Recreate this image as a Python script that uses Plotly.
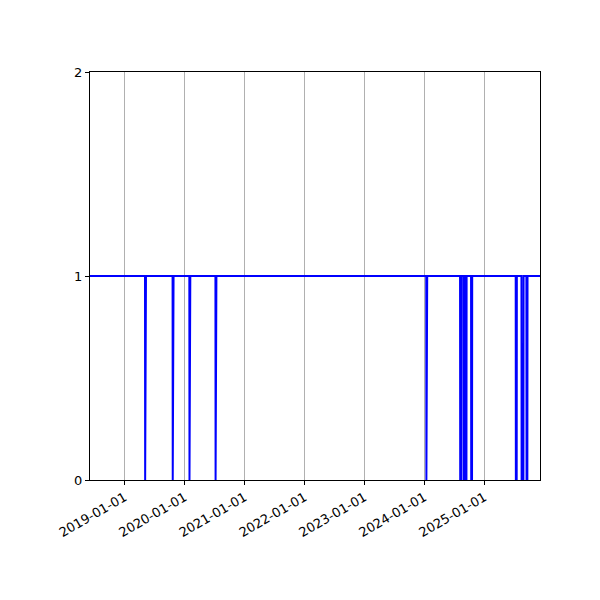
import pandas as pd
import plotly.graph_objects as go

# series span (daily data, value 1 = up, 0 = down)
first_day = "2018-06-04"
last_day = "2025-12-05"

# periods where the value drops to 0
outage_start = ["2019-05-06", "2019-10-21", "2020-01-31", "2020-07-08",
                "2024-01-13", "2024-08-06", "2024-08-27", "2024-09-12",
                "2024-10-12", "2025-07-11", "2025-08-15", "2025-09-14"]
outage_end = ["2019-05-06", "2019-10-21", "2020-01-31", "2020-07-08",
              "2024-01-13", "2024-08-12", "2024-08-31", "2024-09-13",
              "2024-10-17", "2025-07-16", "2025-08-26", "2025-09-19"]

tick_dates = ["2019-01-01", "2020-01-01", "2021-01-01", "2022-01-01",
              "2023-01-01", "2024-01-01", "2025-01-01"]

days = pd.date_range(first_day, last_day, freq="D")
status = pd.Series(1, index=days)
for s, e in zip(outage_start, outage_end):
    status[s:e] = 0

fig = go.Figure()
fig.add_trace(go.Scatter(x=status.index, y=status.values, mode="lines",
                         line=dict(color="#0000ff", width=2)))

# page body has an 8px margin, so shift the plot box up/left by that much
fig.update_layout(
    width=600, height=600,
    margin=dict(l=82, r=68, t=64, b=128),
    plot_bgcolor="white", paper_bgcolor="white",
    showlegend=False,
    font=dict(family="DejaVu Sans", size=13, color="black"),
)
fig.update_xaxes(
    range=[first_day, last_day],
    tickvals=tick_dates, ticktext=tick_dates, tickangle=-30,
    ticks="outside", ticklen=4, tickcolor="black",
    showgrid=True, gridcolor="#b0b0b0", gridwidth=1,
    showline=True, linecolor="black", linewidth=1, mirror=True,
    zeroline=False,
)
fig.update_yaxes(
    range=[0, 2], tickvals=[0, 1, 2],
    ticks="outside", ticklen=4, tickcolor="black",
    showgrid=False, zeroline=False,
    showline=True, linecolor="black", linewidth=1, mirror=True,
)

fig.write_html("out.html")
